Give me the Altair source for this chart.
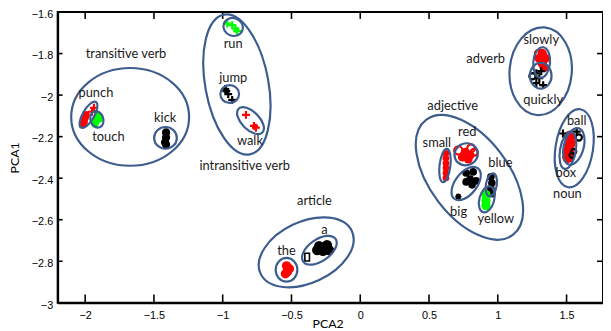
import altair as alt
import pandas as pd

# ---------------- data ----------------
x_ticks = [-2, -1.5, -1, -0.5, 0, 0.5, 1, 1.5]
y_ticks = [-3, -2.8, -2.6, -2.4, -2.2, -2, -1.8, -1.6]

label_text = ["transitive verb", "punch", "touch", "kick", "run", "jump", "walk",
              "intransitive verb", "article", "a", "the", "adjective", "small", "red",
              "big", "blue", "yellow", "adverb", "slowly", "quickly", "ball", "box", "noun"]
label_x = [-1.703, -1.922, -1.831, -1.418, -0.924, -0.924, -0.802,
           -0.840, -0.333, -0.261, -0.536, 0.672, 0.557, 0.778,
           0.715, 1.019, 0.986, 0.912, 1.316, 1.330, 1.574, 1.495, 1.506]
label_y = [-1.800, -1.990, -2.202, -2.109, -1.752, -1.919, -2.223,
           -2.340, -2.508, -2.649, -2.749, -2.052, -2.229, -2.180,
           -2.565, -2.329, -2.598, -1.825, -1.735, -2.022, -2.123, -2.377, -2.476]

# ellipse outlines: centre (data), semi-axes (px), rotation (deg)
ell_x = [-1.673, -1.976, -1.915, -1.416, -0.897, -0.924, -0.949, -0.798,
         -0.393, -0.297, -0.536, 0.794, 0.616, 0.770, 0.770, 0.953, 0.920,
         1.556, 1.553, 1.510, 1.312, 1.319, 1.312]
ell_y = [-2.105, -2.095, -2.117, -2.206, -1.949, -1.672, -1.995, -2.123,
         -2.757, -2.747, -2.841, -2.396, -2.339, -2.285, -2.426, -2.432, -2.502,
         -2.256, -2.247, -2.266, -1.885, -1.843, -1.907]
ell_a = [59.7, 15, 8.5, 11.5, 72, 10, 9.5, 17,
         51, 20, 12, 73, 17, 12, 19.5, 11.8, 13.5,
         40, 19, 19, 44.5, 15.5, 13]
ell_b = [49.5, 5.8, 6.5, 11, 32, 9, 9, 9,
         31, 11, 11, 40, 5.5, 11, 11, 5.5, 7.5,
         19, 10, 8, 31.5, 8.5, 11]
ell_angle = [0, 300, 70, 0, 79.6, 20, 0, 45,
             335, 325, 90, 53, 97, 340, 308, 100, 105,
             99, 105, 100, 95, 95, 90]

# filled blobs
blob_x = [-2.001, -2.008, -2.015, -1.994,
          -1.908, -1.922, -1.929, -1.901,
          -1.412, -1.412, -1.419, -1.412,
          -0.299, -0.242, -0.271, -0.227, -0.313,
          -0.536, -0.529, -0.544, -0.515,
          0.623, 0.623, 0.623, 0.623, 0.623, 0.623,
          0.742, 0.785, 0.763, 0.799,
          0.770, 0.821, 0.799, 0.842, 0.770, 0.813,
          0.950, 0.957, 0.950, 0.957,
          0.914, 0.914, 0.914,
          1.524, 1.524, 1.517, 1.510,
          1.323, 1.302, 1.345, 1.323, 1.337]
blob_y = [-2.109, -2.128, -2.142, -2.095,
          -2.100, -2.118, -2.137, -2.114,
          -2.180, -2.204, -2.228, -2.238,
          -2.727, -2.722, -2.750, -2.746, -2.746,
          -2.822, -2.850, -2.860, -2.836,
          -2.280, -2.304, -2.328, -2.351, -2.375, -2.399,
          -2.299, -2.308, -2.275, -2.289,
          -2.375, -2.370, -2.404, -2.413, -2.418, -2.432,
          -2.394, -2.423, -2.451, -2.475,
          -2.480, -2.508, -2.532,
          -2.199, -2.233, -2.266, -2.299,
          -1.800, -1.824, -1.824, -1.847, -1.867]
blob_color = (["#ff0000"] * 4 + ["#00ff00"] * 4 + ["#000000"] * 4 + ["#000000"] * 5 +
              ["#ff0000"] * 4 + ["#ff0000"] * 6 + ["#ff0000"] * 4 + ["#000000"] * 6 +
              ["#000000"] * 4 + ["#00ff00"] * 3 + ["#ff0000"] * 4 + ["#ff0000"] * 5)
blob_size = ([60] * 4 + [70] * 4 + [70] * 4 + [110] * 5 +
             [90] * 4 + [45] * 6 + [80] * 4 + [60] * 6 +
             [60] * 4 + [90] * 3 + [140] * 4 + [90] * 5)

# plus markers
plus_x = [-1.936, -1.951, -0.967, -0.931, -0.907, -0.895,
          -0.981, -0.974, -0.960, -0.931, -0.831, -0.773, -0.759,
          1.280, 1.302, 1.280, 1.330, 1.316, 1.474, 1.574]
plus_y = [-2.061, -2.080, -1.656, -1.663, -1.680, -1.692,
          -1.971, -1.981, -1.995, -2.023, -2.095, -2.148, -2.157,
          -1.895, -1.919, -1.942, -1.952, -1.885, -2.185, -2.176]
plus_color = (["#ff0000"] * 2 + ["#00ff00"] * 4 + ["#000000"] * 4 +
              ["#ff0000"] * 3 + ["#000000"] * 7)

# ring markers
ring_x = [0.713, 0.806, 0.828, 1.295, 1.252, 1.589, 1.553, 1.539]
ring_y = [-2.266, -2.256, -2.275, -1.800, -1.909, -2.204, -2.271, -2.290]
ring_color = ["#ff0000"] * 4 + ["#000000"] * 4
ring_size = [70, 60, 50, 50, 40, 40, 25, 25]

# small extra markers
star_x = [0.713]
star_y = [-2.489]
square_x = [-0.386]
square_y = [-2.780]

# ---------------- chart ----------------
W = 552.3
H = 294.5
xs = alt.Scale(domain=[-2.2, 1.765], nice=False, zero=False)
ys = alt.Scale(domain=[-3, -1.6], nice=False, zero=False)
ELL = "#3d5d8e"

x_axis = alt.Axis(values=x_ticks, format="~g", title="PCA2", ticks=False, tickSize=0,
                  labelPadding=7, labelFont="Liberation Sans", labelFontSize=11,
                  labelColor="black", domainColor="black", domainWidth=2, grid=False,
                  titleFont="Lato", titleFontSize=12.5, titleFontWeight="normal",
                  titleColor="black", titleX=273.4, titleY=21.5, titleBaseline="middle",
                  titleAlign="center", labelFlush=False)
y_axis = alt.Axis(values=y_ticks, format="~g", title="PCA1", ticks=False, tickSize=0,
                  labelPadding=5, labelOffset=2.3, labelFont="Liberation Sans", labelFontSize=11,
                  labelColor="black", domainColor="black", domainWidth=2, grid=False,
                  labelFlush=False,
                  titleFont="Lato", titleFontSize=12.5, titleFontWeight="normal",
                  titleColor="black", titleX=-44, titleY=H / 2, titleAngle=270,
                  titleBaseline="middle", titleAlign="center")


def X(field="x"):
    return alt.X(field + ":Q", scale=xs, axis=x_axis)


def Y(field="y"):
    return alt.Y(field + ":Q", scale=ys, axis=y_axis)


xt = pd.DataFrame({"x": x_ticks})
yt = pd.DataFrame({"y": y_ticks})

bottom_ticks = alt.Chart(xt).mark_rule(color="black", strokeWidth=1.6).encode(
    x=X(), y=alt.value(H), y2=alt.value(H - 8.5))
top_ticks = alt.Chart(xt).mark_rule(color="black", strokeWidth=1.6).encode(
    x=X(), y=alt.value(0), y2=alt.value(7))
left_ticks = alt.Chart(yt).mark_rule(color="black", strokeWidth=1.6).encode(
    y=Y(), x=alt.value(0), x2=alt.value(5))
right_ticks = alt.Chart(yt).mark_rule(color="black", strokeWidth=1.6).encode(
    y=Y(), x=alt.value(W - 6), x2=alt.value(W))

blobs = alt.Chart(pd.DataFrame({"x": blob_x, "y": blob_y, "c": blob_color, "s": blob_size})).mark_point(
    filled=True, shape="circle", opacity=1).encode(
    x=X(), y=Y(),
    color=alt.Color("c:N", scale=None), size=alt.Size("s:Q", scale=None))

plus_path = "M -1 0 L 1 0 M 0 -1 L 0 1"
pluses = alt.Chart(pd.DataFrame({"x": plus_x, "y": plus_y, "c": plus_color})).mark_point(
    filled=False, shape=plus_path, size=64, strokeWidth=2.2, opacity=1).encode(
    x=X(), y=Y(), color=alt.Color("c:N", scale=None))

rings = alt.Chart(pd.DataFrame({"x": ring_x, "y": ring_y, "c": ring_color, "s": ring_size})).mark_point(
    filled=False, shape="circle", strokeWidth=2.2, opacity=1).encode(
    x=X(), y=Y(),
    color=alt.Color("c:N", scale=None), size=alt.Size("s:Q", scale=None))

star_path = "M -1 0 L 1 0 M 0 -1 L 0 1 M -0.7 -0.7 L 0.7 0.7 M -0.7 0.7 L 0.7 -0.7"
stars = alt.Chart(pd.DataFrame({"x": star_x, "y": star_y})).mark_point(
    filled=False, shape=star_path, size=40, strokeWidth=1.8, color="black", opacity=1).encode(
    x=X(), y=Y())

square_path = "M -0.6 -1 L 0.6 -1 L 0.6 1 L -0.6 1 Z"
squares = alt.Chart(pd.DataFrame({"x": square_x, "y": square_y})).mark_point(
    filled=False, shape=square_path, size=60, strokeWidth=1.6, color="black", opacity=1).encode(
    x=X(), y=Y())

ell_df = pd.DataFrame({"x": ell_x, "y": ell_y, "a": ell_a, "b": ell_b, "ang": ell_angle})
ell_df["shape"] = ["M -1 0 A 1 %.4f 0 1 0 1 0 A 1 %.4f 0 1 0 -1 0 Z" % (b / a, b / a)
                   for a, b in zip(ell_df["a"], ell_df["b"])]
ell_df["size"] = (2 * ell_df["a"]) ** 2
ellipses = alt.Chart(ell_df).mark_point(filled=False, strokeWidth=2.2, color=ELL, opacity=1).encode(
    x=X(), y=Y(),
    shape=alt.Shape("shape:N", scale=None), size=alt.Size("size:Q", scale=None),
    angle=alt.Angle("ang:Q", scale=None))

labels = alt.Chart(pd.DataFrame({"t": label_text, "x": label_x, "y": label_y})).mark_text(
    font="Lato", fontSize=13, color="#1a1a1a", align="center", baseline="middle").encode(
    x=X(), y=Y(), text="t:N")

chart = alt.layer(bottom_ticks, left_ticks, top_ticks, right_ticks,
                  blobs, pluses, rings, stars, squares, ellipses, labels).properties(
    width=W, height=H,
    background="white",
    autosize=alt.AutoSizeParams(type="none"),
    padding={"left": 50.3, "top": 2, "right": 0, "bottom": 27},
).configure_view(stroke="black", strokeWidth=2)

chart.save("out.html", embed_options={"renderer": "svg", "actions": False})
